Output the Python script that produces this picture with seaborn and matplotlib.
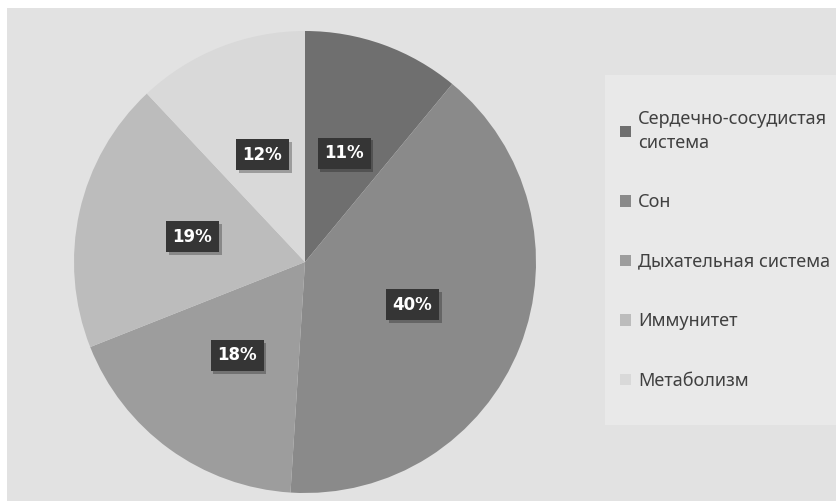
import matplotlib
matplotlib.use("Agg")
import matplotlib.pyplot as plt
import matplotlib.patches as mpatches
import matplotlib.patheffects as pe
import seaborn as sns

categories = ["Сердечно-сосудистая\nсистема", "Сон", "Дыхательная система", "Иммунитет", "Метаболизм"]
values = [11, 40, 18, 19, 12]
colors = ["#6f6f6f", "#8a8a8a", "#9d9d9d", "#bcbcbc", "#d9d9d9"]

sns.set_theme(style="white")
plt.rcParams['font.family'] = ['Noto Sans', 'DejaVu Sans']

W, H = 836, 501
fig = plt.figure(figsize=(W / 100, H / 100), dpi=100, facecolor="white")

# background panel (white border on top/left)
fig.patches.append(mpatches.Rectangle((7 / W, 0), 1 - 7 / W, 1 - 8 / H, transform=fig.transFigure,
                                      facecolor="#e2e2e2", edgecolor="none", zorder=-2))
# lighter legend panel
fig.patches.append(mpatches.Rectangle((605 / W, 1 - 425 / H), (836 - 605) / W, (425 - 75) / H,
                                      transform=fig.transFigure, facecolor="#e9e9e9",
                                      edgecolor="none", zorder=-1))

cx, cy, r = 305, 262, 231
ax = fig.add_axes([(cx - r) / W, (H - cy - r) / H, 2 * r / W, 2 * r / H])
ax.set_zorder(2)
ax.set_facecolor("none")

wedges, texts, autotexts = ax.pie(
    values, colors=colors, startangle=90, counterclock=False,
    autopct=lambda p: f"{p:.0f}%", pctdistance=0.5, radius=1,
    wedgeprops=dict(linewidth=0),
    textprops=dict(color="white", fontsize=12, fontweight="bold", family=["DejaVu Sans"]),
)
for t in autotexts:
    t.set_bbox(dict(boxstyle="square,pad=0.4", facecolor="#353535", edgecolor="none"))
    t.get_bbox_patch().set_path_effects([pe.SimplePatchShadow(offset=(2, -2), alpha=0.3), pe.Normal()])
ax.set_xlim(-1, 1)
ax.set_ylim(-1, 1)
ax.set_aspect("equal")
ax.axis("off")

leg = fig.legend(wedges, categories, loc="upper left", bbox_to_anchor=(611 / W, 1 - 101 / H),
                 frameon=False, fontsize=13, labelcolor="#404040", labelspacing=2.3,
                 handlelength=0.6, handleheight=0.6, handletextpad=0.4, borderpad=0)
leg.set_zorder(3)
for t in leg.get_texts():
    t.set_linespacing(1.4)

fig.savefig("out.png", dpi=100, facecolor=fig.get_facecolor())
